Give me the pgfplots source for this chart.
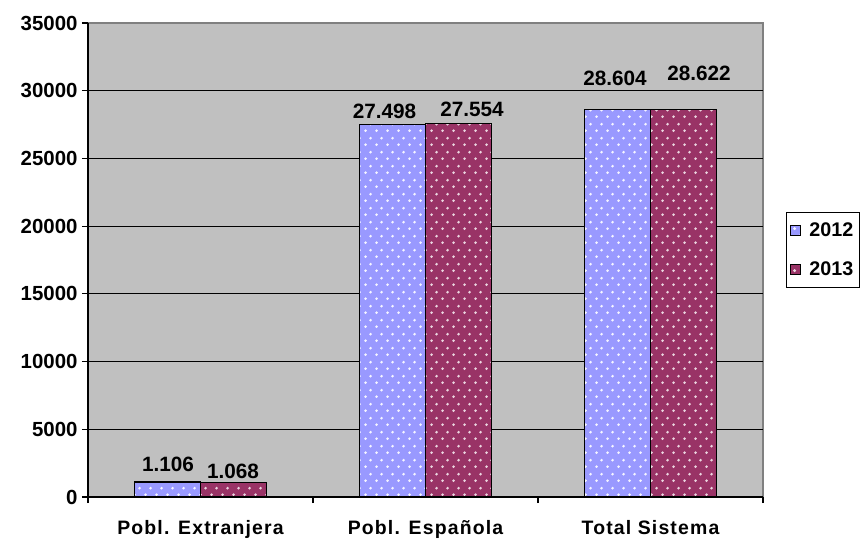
\documentclass[border=0pt]{standalone}
\usepackage{fontspec}
\setmainfont{Liberation Sans}
\usepackage{pgfplots}
\usepackage{pgfplotstable}
\pgfplotsset{compat=1.18}
\usetikzlibrary{patterns}
\definecolor{cA}{HTML}{9999FF}
\definecolor{cB}{HTML}{993366}
\definecolor{bg}{HTML}{C0C0C0}
\pgfdeclarepatternformonly{exdots}{\pgfqpoint{0bp}{0bp}}{\pgfqpoint{11bp}{14bp}}{\pgfqpoint{11bp}{14bp}}{%
  \pgfpathcircle{\pgfqpoint{2.75bp}{3.5bp}}{1.6bp}%
  \pgfpathcircle{\pgfqpoint{8.25bp}{10.5bp}}{1.6bp}%
  \pgfusepath{fill}}
\newcommand{\lblfont}{\bfseries\fontsize{20.8}{22}\selectfont}
\newcommand{\ytfont}{\bfseries\fontsize{20.5}{22}\selectfont}
\newcommand{\lgfont}{\bfseries\fontsize{19.8}{22}\selectfont}
\newcommand{\xtfont}{\bfseries\fontsize{19.5}{22}\selectfont\addfontfeature{LetterSpace=6}}
\pgfplotstableread{
x y dx dy
0 1106 0.5 9.3
1 27498 -8 5.6
2 28604 -2.5 23
}\tA
\pgfplotstableread{
x y dx dy
0 1068 -0.5 3.5
1 27554 13.5 6.5
2 28622 15.5 27.7
}\tB
\begin{document}
\begin{tikzpicture}
\begin{axis}[
  scale only axis, width=675bp, height=474bp,
  ybar=0pt, bar width=66bp,
  xmin=-0.5, xmax=2.5, ymin=0, ymax=35000,
  ytick={0,5000,...,30000},
  extra y ticks={35000},
  extra y tick style={grid=none},
  xtick={0,1,2},
  xticklabels={Pobl. Extranjera, Pobl. Española, Total Sistema},
  minor xtick={-0.5,0.5,1.5,2.5},
  axis lines=left,
  axis line style={-, line width=1.6bp, black},
  axis background/.style={fill=bg, draw=gray, line width=1.2bp},
  ymajorgrids, grid style={black, line width=1.2bp},
  tick align=outside, major tick length=6bp, minor tick length=6bp,
  major x tick style={draw=none},
  tick style={black, line width=1.2bp},
  scaled y ticks=false,
  /pgf/number format/assume math mode=true,
  yticklabel style={/pgf/number format/1000 sep={}, font=\ytfont, xshift=-1bp},
  xticklabel style={font=\xtfont, anchor=north, yshift=-14bp},
  visualization depends on={\thisrow{dx}\as\ldx},
  visualization depends on={\thisrow{dy}\as\ldy},
  nodes near coords={\pgfmathprintnumber[1000 sep={.},assume math mode=true]{\pgfplotspointmeta}},
  nodes near coords style={font=\lblfont, inner sep=0pt, anchor=south, xshift=\ldx*1bp, yshift=\ldy*1bp},
  legend style={at={(rel axis cs:1.034,0.602)}, anchor=north west,
    draw=black, line width=1bp, font=\lgfont, row sep=19bp,
    inner xsep=4bp, inner ysep=9bp},
  legend cell align=left,
  legend image code/.code={\draw[#1, line width=0.8bp] (0bp,-5bp) rectangle (10bp,5bp); \path (16bp,0bp);},
]
\addplot[draw=black, line width=1.3bp, fill=cA, postaction={pattern=exdots, pattern color=white!90!cA}]
  table[x=x,y=y] {\tA};
\addplot[draw=black, line width=1.3bp, fill=cB, postaction={pattern=exdots, pattern color=white!80!cB}]
  table[x=x,y=y] {\tB};
\legend{2012,2013}
\coordinate (ll) at (rel axis cs:0,0);
\coordinate (ur) at (rel axis cs:1,1);
\end{axis}
\pgfresetboundingbox
\path[use as bounding box] ([shift={(-88bp,-43bp)}]ll) rectangle ([shift={(104bp,23bp)}]ur);
\end{tikzpicture}
\end{document}
